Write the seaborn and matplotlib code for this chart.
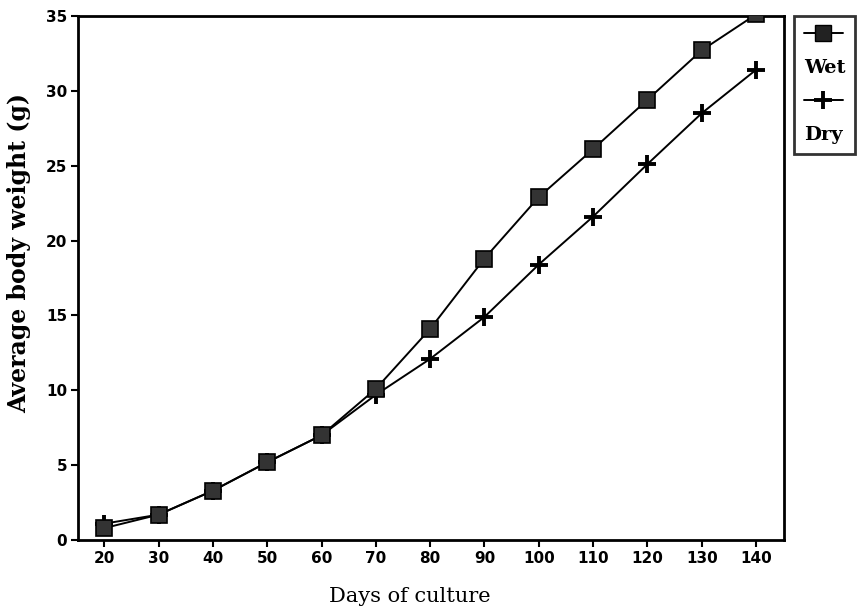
import matplotlib
matplotlib.use("Agg")
import matplotlib.pyplot as plt
import seaborn as sns
import pandas as pd
from matplotlib.lines import Line2D

days = [20, 30, 40, 50, 60, 70, 80, 90, 100, 110, 120, 130, 140]
wet = [0.8, 1.7, 3.3, 5.2, 7.0, 10.1, 14.1, 18.8, 22.9, 26.1, 29.4, 32.7, 35.1]
dry = [1.1, 1.7, 3.3, 5.2, 7.0, 9.7, 12.1, 14.9, 18.4, 21.6, 25.1, 28.5, 31.4]
x_ticks = [20, 30, 40, 50, 60, 70, 80, 90, 100, 110, 120, 130, 140]
y_ticks = [0, 5, 10, 15, 20, 25, 30, 35]

df = pd.DataFrame({"days": days, "Wet": wet, "Dry": dry})

sns.set_style("white")
plt.rcParams["font.family"] = ["DejaVu Sans"]

fig = plt.figure(figsize=(8.59, 6.11), dpi=100)
ax = fig.add_axes([0.091, 0.116, 0.822, 0.858])

# dry - plus signs (under the squares where they overlap)
sns.lineplot(data=df, x="days", y="Dry", ax=ax, color="black", linewidth=1.4,
             marker="+", markersize=13, markeredgewidth=2.8,
             markeredgecolor="black", zorder=3)
# wet - filled squares
sns.lineplot(data=df, x="days", y="Wet", ax=ax, color="black", linewidth=1.4,
             marker="s", markersize=11, markerfacecolor="#333333",
             markeredgecolor="black", markeredgewidth=1.2, zorder=4)

ax.set_xlim(15.2, 145.2)
ax.set_ylim(0, 35)
ax.set_xticks(x_ticks)
ax.set_yticks(y_ticks)
ax.tick_params(axis="both", direction="out", length=5, width=1.5, color="black",
               labelsize=11, pad=3, bottom=True, left=True, labelcolor="black")
for lab in ax.get_xticklabels() + ax.get_yticklabels():
    lab.set_fontweight("bold")
for s in ax.spines.values():
    s.set_color("black")
    s.set_linewidth(2)

ax.set_xlabel("Days of culture", family="DejaVu Serif", fontsize=15, color="black")
ax.set_ylabel("Average body weight (g)", family="DejaVu Serif", fontsize=17,
              fontweight="bold", color="black")
ax.xaxis.set_label_coords(0.47, -0.09)
ax.yaxis.set_label_coords(-0.066, 0.548)

# legend: marker sample on top, name underneath
blank = Line2D([], [], linestyle="none")
h_wet = Line2D([], [], color="black", linewidth=1.4, marker="s", markersize=11,
               markerfacecolor="#222222", markeredgecolor="black")
h_dry = Line2D([], [], color="black", linewidth=1.4, marker="+", markersize=13,
               markeredgewidth=2.8, markeredgecolor="black")
leg = ax.legend([h_wet, blank, h_dry, blank], ["", "Wet", "", "Dry"],
                loc="upper left", bbox_to_anchor=(1.014, 1.0), borderaxespad=0,
                handlelength=2.0, handletextpad=-2.0, labelspacing=0.8,
                borderpad=0.5, fancybox=False, frameon=True, labelcolor="black",
                prop={"family": "DejaVu Serif", "size": 14, "weight": "bold"})
leg.get_frame().set_edgecolor("black")
leg.get_frame().set_linewidth(2)

fig.savefig("out.png", dpi=100)
